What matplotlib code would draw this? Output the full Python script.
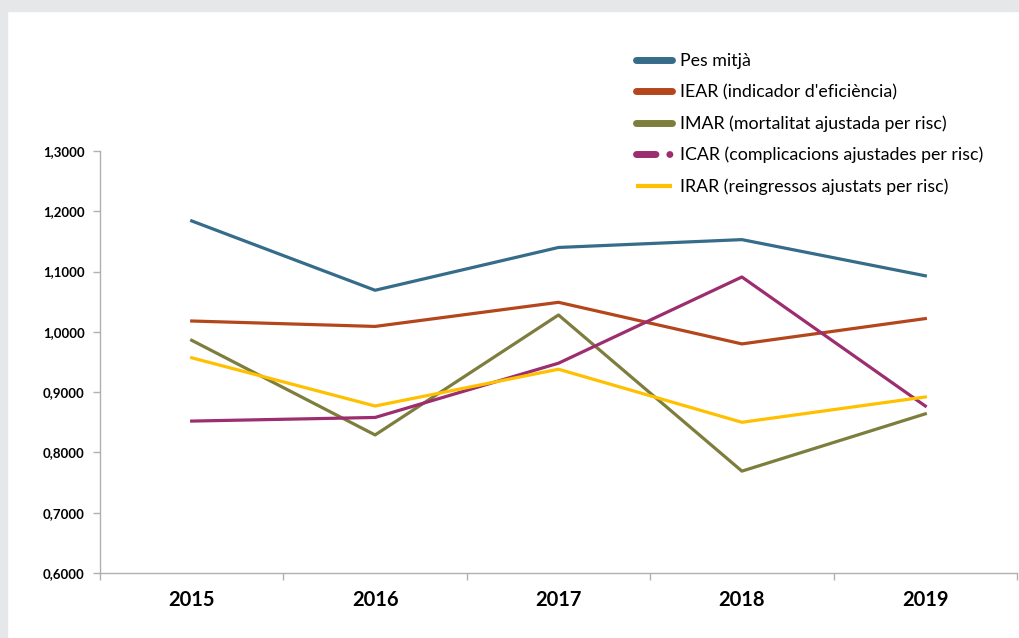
import matplotlib.pyplot as plt
from matplotlib.lines import Line2D
from matplotlib.patches import Rectangle
from matplotlib.ticker import FixedLocator, FuncFormatter

plt.rcParams['font.family'] = ['Lato', 'DejaVu Sans']

# dades
years = ['2015', '2016', '2017', '2018', '2019']
pes_mitja = [1.184, 1.069, 1.140, 1.153, 1.093]
iear = [1.018, 1.009, 1.049, 0.980, 1.022]
imar = [0.986, 0.829, 1.028, 0.769, 0.864]
icar = [0.852, 0.858, 0.948, 1.091, 0.877]
irar = [0.957, 0.877, 0.938, 0.850, 0.892]

labels = ['Pes mitjà', "IEAR (indicador d'eficiència)",
          'IMAR (mortalitat ajustada per risc)',
          'ICAR (complicacions ajustades per risc)',
          'IRAR (reingressos ajustats per risc)']
colors = ['#356c89', '#b4461c', '#7d7d3d', '#9c2d6e', '#ffc000']
series = [pes_mitja, iear, imar, icar, irar]

fig = plt.figure(figsize=(10.19, 6.38), dpi=100)
# vora gris de dalt i esquerra
fig.patches.append(Rectangle((0, 1 - 11 / 638), 1, 11 / 638, transform=fig.transFigure,
                             color='#e6e7e9', zorder=0))
fig.patches.append(Rectangle((0, 0), 7 / 1019, 1, transform=fig.transFigure,
                             color='#e6e7e9', zorder=0))

ax = fig.add_axes([100 / 1019, 1 - 573 / 638, 917 / 1019, 422 / 638])
x = list(range(len(years)))
for vals, c in zip(series, colors):
    ax.plot(x, vals, color=c, lw=2.3)

ax.set_xlim(-0.5, len(years) - 0.5)
ax.set_ylim(0.6, 1.3)
ax.set_xticks(x)
ax.set_xticklabels(years, fontsize=14.5, fontweight='bold')
ax.xaxis.set_minor_locator(FixedLocator([i - 0.5 for i in range(len(years) + 1)]))
ax.tick_params(axis='x', which='major', length=0, pad=12)
ax.tick_params(axis='x', which='minor', length=5, color='#b0b0b0', width=1)
ax.set_yticks([0.6 + 0.1 * i for i in range(8)])
ax.yaxis.set_major_formatter(FuncFormatter(lambda v, p: f'{v:.4f}'.replace('.', ',')))
ax.tick_params(axis='y', length=5, color='#b0b0b0', width=1, labelsize=9.5, pad=6)
for t in ax.get_yticklabels():
    t.set_fontweight('bold')
for s in ['top', 'right']:
    ax.spines[s].set_visible(False)
for s in ['left', 'bottom']:
    ax.spines[s].set_color('#b0b0b0')
    ax.spines[s].set_linewidth(1)

handles = []
for i, c in enumerate(colors):
    if i == 3:
        h = Line2D([], [], color=c, lw=5, linestyle=(0, (2.8, 2.0, 0.01, 10)),
                   dash_capstyle='round')
    elif i == 4:
        h = Line2D([], [], color=c, lw=3, solid_capstyle='butt')
    else:
        h = Line2D([], [], color=c, lw=5, solid_capstyle='round')
    handles.append(h)

fig.legend(handles, labels, loc='upper left', bbox_to_anchor=(636 / 1019, 1 - 53 / 638),
           frameon=False, fontsize=12.8, handlelength=2.05, handletextpad=0.45,
           labelspacing=0.845, borderpad=0, borderaxespad=0)

fig.savefig('out.png', dpi=100)
